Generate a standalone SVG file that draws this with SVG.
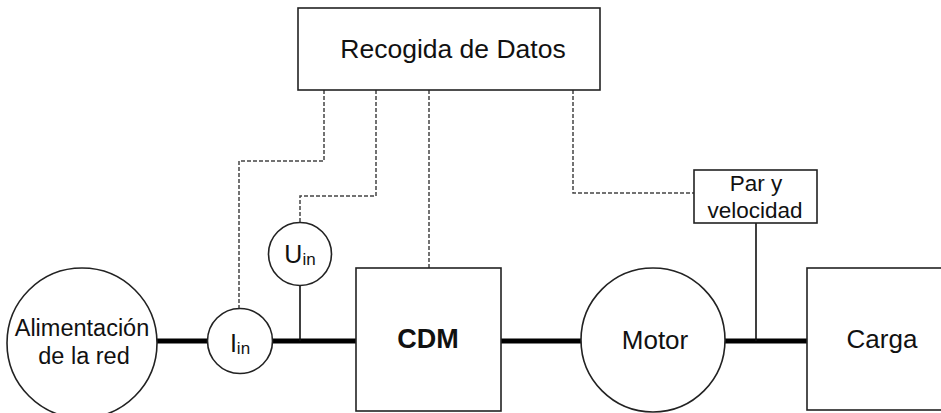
<svg xmlns="http://www.w3.org/2000/svg" width="941" height="413" viewBox="0 0 941 413">
<style>
.box{fill:#fff;stroke:#222;stroke-width:1.6}
.t{font-family:"Liberation Sans",Arial,sans-serif;fill:#111;text-anchor:middle}
.dash{fill:none;stroke:#444;stroke-width:1.5;stroke-dasharray:4,2}
.thin{fill:none;stroke:#111;stroke-width:1.6}
.thick{fill:none;stroke:#000;stroke-width:5}
</style>
<rect width="941" height="413" fill="#fff"/>
<g id="connectors">
<path class="thick" d="M157 341H207M272 341H356M501 341H582M725 341H807"/>
<path class="thin" d="M300 286V341M756 223V341"/>
<path class="dash" d="M324 90V161H239V309"/>
<path class="dash" d="M376 90V196H300V222"/>
<path class="dash" d="M429 90V268"/>
<path class="dash" d="M573 90V193H694"/>
</g>
<g id="recogida">
<rect class="box" x="298" y="8" width="302" height="82"/>
<text class="t" x="453" y="58" font-size="26.5">Recogida de Datos</text>
</g>
<g id="alimentacion">
<circle class="box" cx="82" cy="343" r="75"/>
<text class="t" x="82" y="336" font-size="23.5">Alimentación</text>
<text class="t" x="84" y="364" font-size="23.5">de la red</text>
</g>
<g id="iin">
<circle class="box" cx="240" cy="341" r="32.5"/>
<text class="t" x="240" y="352" font-size="25">I<tspan font-size="17" dy="2">in</tspan></text>
</g>
<g id="uin">
<circle class="box" cx="300" cy="254" r="31.5"/>
<text class="t" x="300" y="263" font-size="25">U<tspan font-size="17" dy="2">in</tspan></text>
</g>
<g id="cdm">
<rect class="box" x="356" y="268" width="145" height="143"/>
<text class="t" x="428" y="348" font-size="27" font-weight="bold">CDM</text>
</g>
<g id="motor">
<circle class="box" cx="653" cy="340" r="72"/>
<text class="t" x="655" y="349" font-size="26">Motor</text>
</g>
<g id="par">
<rect class="box" x="694" y="170" width="123" height="53"/>
<text class="t" x="756" y="191" font-size="22.5">Par y</text>
<text class="t" x="755" y="218" font-size="22.5">velocidad</text>
</g>
<g id="carga">
<rect class="box" x="807" y="268" width="150" height="142"/>
<text class="t" x="882" y="348" font-size="26">Carga</text>
</g>
</svg>
